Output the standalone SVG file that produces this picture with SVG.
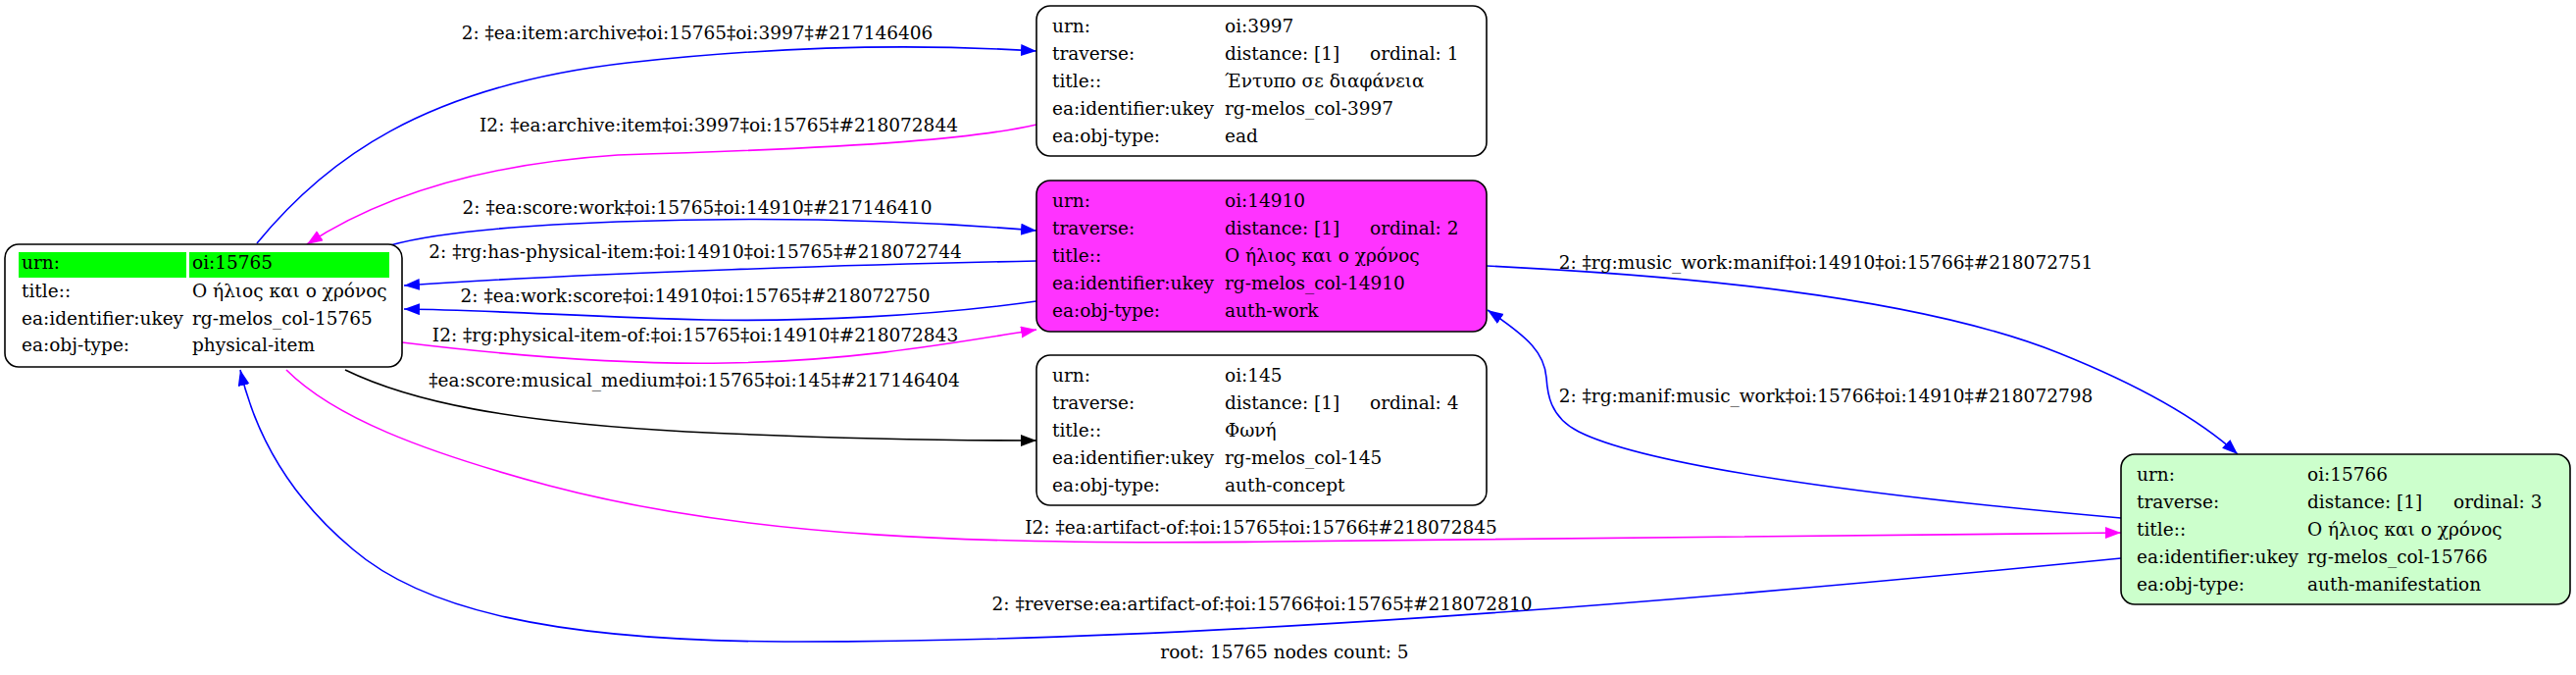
<svg xmlns="http://www.w3.org/2000/svg" width="2627" height="688" viewBox="0 0 2627 688">
<style>
text{font-family:"DejaVu Serif","Liberation Serif",serif;font-size:18.5px;fill:#000}
.lbl{text-anchor:middle}
.box{stroke:#000;stroke-width:1.6}
.e{fill:none;stroke-width:1.6}
.b{stroke:#0000ff}
.m{stroke:#ff00ff}
.k{stroke:#000}
</style>
<defs>
<marker id="ab" markerUnits="userSpaceOnUse" markerWidth="18" markerHeight="14" refX="16" refY="6" orient="auto"><path d="M0,0 L16,6 L0,12 Z" fill="#0000ff"/></marker>
<marker id="am" markerUnits="userSpaceOnUse" markerWidth="18" markerHeight="14" refX="16" refY="6" orient="auto"><path d="M0,0 L16,6 L0,12 Z" fill="#ff00ff"/></marker>
<marker id="ak" markerUnits="userSpaceOnUse" markerWidth="18" markerHeight="14" refX="16" refY="6" orient="auto"><path d="M0,0 L16,6 L0,12 Z" fill="#000"/></marker>
</defs>
<rect width="2627" height="688" fill="#fff"/>
<g id="connectors">
<path class="e b" d="M262,248 C330,165 430,88 640,64 C820,44 960,46 1057,52" marker-end="url(#ab)"/>
<text class="lbl" x="711" y="40">2: ‡ea:item:archive‡oi:15765‡oi:3997‡#217146406</text>
<path class="e m" d="M1057,127 C1000,140 900,150 630,158 C480,168 380,205 313,249" marker-end="url(#am)"/>
<text class="lbl" x="733" y="134">I2: ‡ea:archive:item‡oi:3997‡oi:15765‡#218072844</text>
<path class="e b" d="M398,250 C440,238 520,230 630,226 C800,220 950,226 1057,235" marker-end="url(#ab)"/>
<text class="lbl" x="711" y="218">2: ‡ea:score:work‡oi:15765‡oi:14910‡#217146410</text>
<path class="e b" d="M1057,266 C900,269 600,278 412,291" marker-end="url(#ab)"/>
<text class="lbl" x="709" y="263">2: ‡rg:has-physical-item:‡oi:14910‡oi:15765‡#218072744</text>
<path class="e b" d="M1057,307 C950,322 820,328 720,326 C600,323 500,316 412,315" marker-end="url(#ab)"/>
<text class="lbl" x="709" y="308">2: ‡ea:work:score‡oi:14910‡oi:15765‡#218072750</text>
<path class="e m" d="M410,349 C500,360 620,372 740,370 C870,368 970,350 1057,336" marker-end="url(#am)"/>
<text class="lbl" x="709" y="348">I2: ‡rg:physical-item-of:‡oi:15765‡oi:14910‡#218072843</text>
<path class="e k" d="M352,377 C420,410 520,430 700,440 C850,447 950,449 1057,449" marker-end="url(#ak)"/>
<text class="lbl" x="708" y="394">‡ea:score:musical_medium‡oi:15765‡oi:145‡#217146404</text>
<path class="e b" d="M1516,271 C1700,280 1950,300 2100,360 C2180,392 2240,425 2282,463" marker-end="url(#ab)"/>
<text class="lbl" x="1862" y="274">2: ‡rg:music_work:manif‡oi:14910‡oi:15766‡#218072751</text>
<path class="e b" d="M2163,528 C1900,505 1680,475 1610,440 C1580,425 1578,400 1577,385 C1575,360 1560,345 1517,316" marker-end="url(#ab)"/>
<text class="lbl" x="1862" y="410">2: ‡rg:manif:music_work‡oi:15766‡oi:14910‡#218072798</text>
<path class="e m" d="M292,377 C340,425 430,460 560,495 C760,548 1000,556 1300,552 C1700,548 2000,544 2163,543" marker-end="url(#am)"/>
<text class="lbl" x="1286" y="544">I2: ‡ea:artifact-of:‡oi:15765‡oi:15766‡#218072845</text>
<path class="e b" d="M2163,569 C1700,615 1200,655 800,654 C560,653 430,620 360,560 C300,510 262,450 245,377" marker-end="url(#ab)"/>
<text class="lbl" x="1287" y="622">2: ‡reverse:ea:artifact-of:‡oi:15766‡oi:15765‡#218072810</text>
</g>
<g id="node-15765">
<rect class="box" x="5" y="249" width="405" height="125" rx="14" fill="#fff"/>
<rect x="19" y="257" width="171" height="26" fill="#00ff00"/>
<rect x="193" y="257" width="204" height="26" fill="#00ff00"/>
<text x="22" y="274">urn:</text><text x="196" y="274">oi:15765</text>
<text x="22" y="303">title::</text><text x="196" y="303">Ο ήλιος και ο χρόνος</text>
<text x="22" y="331">ea:identifier:ukey</text><text x="196" y="331">rg-melos_col-15765</text>
<text x="22" y="358">ea:obj-type:</text><text x="196" y="358">physical-item</text>
</g>
<g id="node-3997">
<rect class="box" x="1057" y="6" width="459" height="153" rx="14" fill="#fff"/>
<text x="1073" y="33">urn:</text><text x="1249" y="33">oi:3997</text>
<text x="1073" y="61">traverse:</text><text x="1249" y="61">distance: [1]</text><text x="1397" y="61">ordinal: 1</text>
<text x="1073" y="89">title::</text><text x="1249" y="89">Έντυπο σε διαφάνεια</text>
<text x="1073" y="117">ea:identifier:ukey</text><text x="1249" y="117">rg-melos_col-3997</text>
<text x="1073" y="145">ea:obj-type:</text><text x="1249" y="145">ead</text>
</g>
<g id="node-14910">
<rect class="box" x="1057" y="184" width="459" height="154" rx="14" fill="#ff33ff"/>
<text x="1073" y="211">urn:</text><text x="1249" y="211">oi:14910</text>
<text x="1073" y="239">traverse:</text><text x="1249" y="239">distance: [1]</text><text x="1397" y="239">ordinal: 2</text>
<text x="1073" y="267">title::</text><text x="1249" y="267">Ο ήλιος και ο χρόνος</text>
<text x="1073" y="295">ea:identifier:ukey</text><text x="1249" y="295">rg-melos_col-14910</text>
<text x="1073" y="323">ea:obj-type:</text><text x="1249" y="323">auth-work</text>
</g>
<g id="node-145">
<rect class="box" x="1057" y="362" width="459" height="153" rx="14" fill="#fff"/>
<text x="1073" y="389">urn:</text><text x="1249" y="389">oi:145</text>
<text x="1073" y="417">traverse:</text><text x="1249" y="417">distance: [1]</text><text x="1397" y="417">ordinal: 4</text>
<text x="1073" y="445">title::</text><text x="1249" y="445">Φωνή</text>
<text x="1073" y="473">ea:identifier:ukey</text><text x="1249" y="473">rg-melos_col-145</text>
<text x="1073" y="501">ea:obj-type:</text><text x="1249" y="501">auth-concept</text>
</g>
<g id="node-15766">
<rect class="box" x="2163" y="463" width="458" height="153" rx="14" fill="#ccffcc"/>
<text x="2179" y="490">urn:</text><text x="2353" y="490">oi:15766</text>
<text x="2179" y="518">traverse:</text><text x="2353" y="518">distance: [1]</text><text x="2502" y="518">ordinal: 3</text>
<text x="2179" y="546">title::</text><text x="2353" y="546">Ο ήλιος και ο χρόνος</text>
<text x="2179" y="574">ea:identifier:ukey</text><text x="2353" y="574">rg-melos_col-15766</text>
<text x="2179" y="602">ea:obj-type:</text><text x="2353" y="602">auth-manifestation</text>
</g>
<text class="lbl" x="1310" y="671">root: 15765 nodes count: 5</text>
</svg>
